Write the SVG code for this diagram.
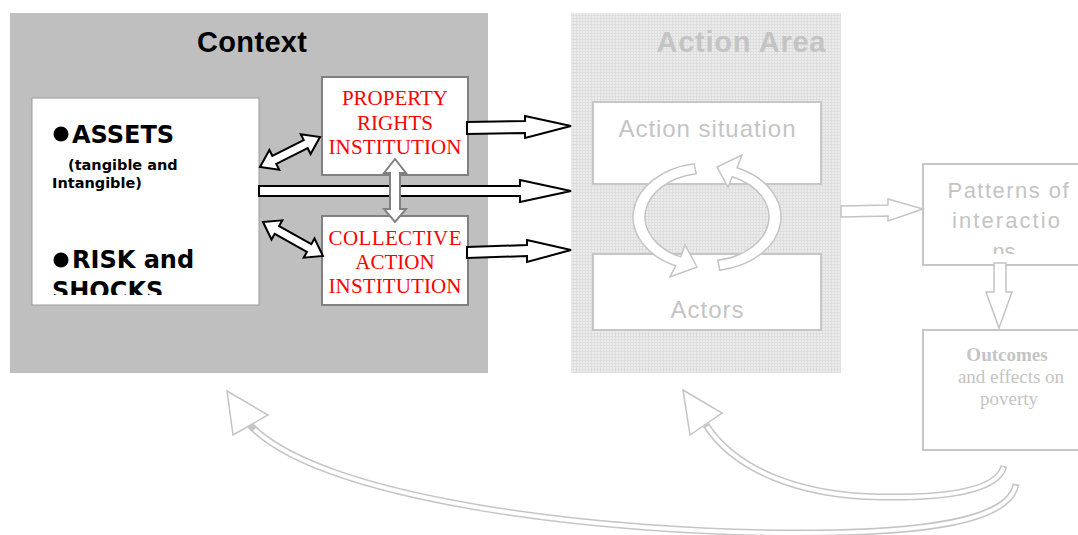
<svg xmlns="http://www.w3.org/2000/svg" width="1078" height="535" viewBox="0 0 1078 535">
<style>
.ctx{fill:#bfbfbf}
.box{fill:#fff;stroke:#808080;stroke-width:2}
.gbox{fill:#fff;stroke:#c6c6c6;stroke-width:2}
.red{font-family:"Liberation Serif",serif;font-size:21px;fill:#f00;text-anchor:middle}
.blk{fill:#fff;stroke:#000;stroke-width:2;stroke-linejoin:miter}
.gar{fill:#fff;stroke:#c4c4c4;stroke-width:1.5}
.bul{font-family:"DejaVu Sans",sans-serif;font-weight:bold;fill:#000}
.gt{font-family:"Liberation Sans",sans-serif;fill:#c4c4c4}
.gs{font-family:"Liberation Serif",serif;fill:#c4c4c4;font-size:19px;text-anchor:middle}
</style>
<defs>
<pattern id="dots" width="3" height="3" patternUnits="userSpaceOnUse">
<rect width="3" height="3" fill="#ececec"/>
<rect width="3" height="1" fill="#dedede"/>
<rect width="1" height="3" fill="#dedede"/>
</pattern>
<clipPath id="clipAssets"><rect x="32" y="98" width="227" height="197"/></clipPath>
<clipPath id="clipPat"><rect x="923" y="164" width="160" height="90"/></clipPath>
</defs>
<rect width="1078" height="535" fill="#fff"/>

<g id="context">
<rect class="ctx" x="10" y="13" width="478" height="360"/>
<text x="252" y="52" font-family="Liberation Sans,sans-serif" font-weight="bold" font-size="29" text-anchor="middle" textLength="110">Context</text>
</g>

<g id="action-area">
<rect x="571" y="13" width="270" height="360" fill="url(#dots)"/>
<text x="741" y="52" class="gt" font-weight="bold" font-size="29" text-anchor="middle" textLength="169" fill="#c8c8c8">Action Area</text>
</g>

<g id="assets">
<rect x="32" y="98" width="227" height="207" fill="#fff" stroke="#999" stroke-width="1"/>
<g clip-path="url(#clipAssets)">
<circle cx="61" cy="134" r="7.5" fill="#000"/>
<text class="bul" x="72" y="143" font-size="24">ASSETS</text>
<text class="bul" x="68" y="170" font-size="14.5">(tangible and</text>
<text class="bul" x="52" y="188" font-size="14.5">Intangible)</text>
<circle cx="61" cy="260" r="7.5" fill="#000"/>
<text class="bul" x="72" y="268" font-size="24">RISK and</text>
<text class="bul" x="52" y="299" font-size="24">SHOCKS</text>
</g>
</g>

<g id="property-rights">
<rect class="box" x="322" y="77" width="146" height="98"/>
<text class="red" x="395" y="105">PROPERTY</text>
<text class="red" x="395" y="130">RIGHTS</text>
<text class="red" x="395" y="154" textLength="133">INSTITUTION</text>
</g>

<g id="collective-action">
<rect class="box" x="322" y="216" width="146" height="89"/>
<text class="red" x="395" y="245" textLength="133">COLLECTIVE</text>
<text class="red" x="395" y="269">ACTION</text>
<text class="red" x="395" y="293" textLength="133">INSTITUTION</text>
</g>

<g id="action-situation">
<rect class="gbox" x="593" y="102" width="228" height="82"/>
<text class="gt" x="707" y="137" font-size="24" text-anchor="middle" textLength="177">Action situation</text>
</g>

<g id="actors">
<rect class="gbox" x="593" y="254" width="228" height="76"/>
<text class="gt" x="707" y="318" font-size="24" text-anchor="middle" textLength="73">Actors</text>
</g>

<g id="patterns">
<rect class="gbox" x="923" y="164" width="170" height="101"/>
<g clip-path="url(#clipPat)">
<text class="gt" x="1008" y="198" font-size="22" text-anchor="middle" textLength="121">Patterns of</text>
<text class="gt" x="1006" y="228" font-size="22" text-anchor="middle" textLength="108">interactio</text>
<text class="gt" x="1004" y="259" font-size="22" text-anchor="middle">ns</text>
</g>
</g>

<g id="outcomes">
<rect class="gbox" x="923" y="330" width="170" height="120"/>
<text class="gs" x="1007" y="361" font-weight="bold">Outcomes</text>
<text class="gs" x="1011" y="383">and effects on</text>
<text class="gs" x="1009" y="405">poverty</text>
</g>

<g id="connectors">
<polygon class="blk" points="467,122 525,121 525,116 571,126 525,138 525,133 467,134"/>
<polygon class="blk" points="259,186 520,186 520,180 571,191 520,202 520,196 259,196"/>
<polygon class="blk" points="467,247 527,245 527,240 571,250 527,262 527,256 467,258"/>
<polygon class="blk" points="260,167 269.4,150 272.3,155.8 303.7,140.1 300.8,134.3 320,137 310.6,154 307.7,148.2 276.3,163.9 279.2,169.7"/>
<polygon class="blk" points="263,222 282.3,220.3 279.1,226 311.3,244.2 314.5,238.5 323,256 303.7,257.7 306.9,252 274.7,233.8 271.5,239.5"/>
<polygon fill="#fff" stroke="#808080" stroke-width="2" points="395,159 406,173 400,173 400,209 406,209 395,222 384,209 390,209 390,173 384,173"/>

<path class="gar" d="M694.2,163.8 A74,54 0 0 0 675.7,265.9 L670,277 L697,267 L685,245 L680.8,256.9 A62,44 0 0 1 696.2,173.7 Z"/>
<path class="gar" d="M719.8,270.2 A74,54 0 0 0 737.1,167.7 L742,155 L717,167 L728,187 L732.2,176.8 A62,44 0 0 1 717.8,260.3 Z"/>

<polygon class="gar" points="841,206 888,205 888,199 923,209 888,221 888,216 841,217"/>
<polygon class="gar" points="994,263 1006,263 1006,292 1012,292 999,328 986,292 994,292"/>

<g fill="none">
<path d="M1004,466 C998,490 950,498 880,497 C800,496 735,470 706,425" stroke="#c4c4c4" stroke-width="7"/>
<path d="M1004,466 C998,490 950,498 880,497 C800,496 735,470 706,425" stroke="#fff" stroke-width="4" pathLength="100" stroke-dasharray="0 0.4 99 10"/>
<path d="M1016,484 C1010,520 930,533 800,533 C600,533 320,500 250,425" stroke="#c4c4c4" stroke-width="7"/>
<path d="M1016,484 C1010,520 930,533 800,533 C600,533 320,500 250,425" stroke="#fff" stroke-width="4" pathLength="100" stroke-dasharray="0 0.2 99 10"/>
</g>
<polygon class="gar" points="683,390 722,413 690,435"/>
<polygon class="gar" points="227,391 268,415 233,435"/>
</g>
</svg>
